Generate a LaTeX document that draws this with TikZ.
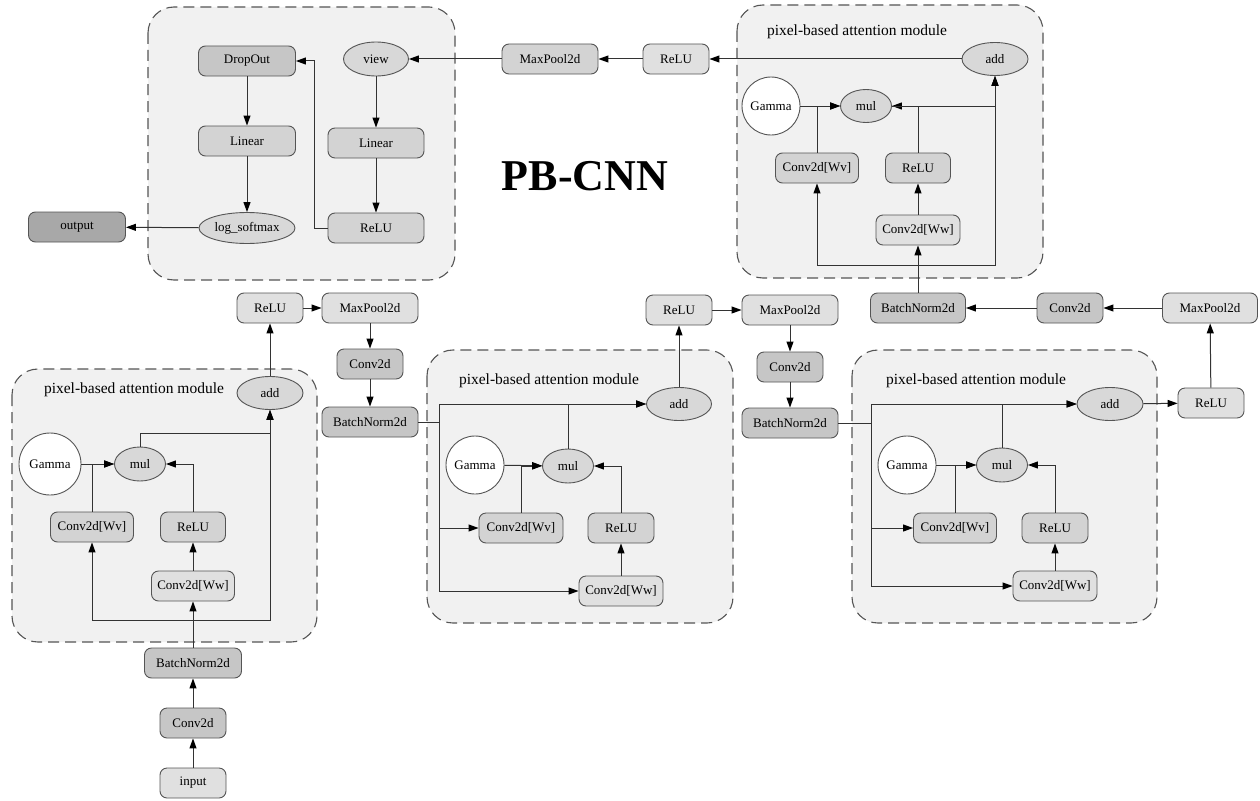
\documentclass[tikz,border=0pt]{standalone}
\usepackage{fontspec}
\setmainfont{Liberation Serif}
\usetikzlibrary{arrows.meta,shapes.geometric}

\definecolor{edgecol}{HTML}{333333}
\definecolor{boxline}{HTML}{555555}
\definecolor{grpfill}{HTML}{F1F1F1}
\definecolor{flight}{HTML}{E0E0E0}
\definecolor{fmid}{HTML}{D3D3D3}
\definecolor{fdark}{HTML}{C6C6C6}
\definecolor{fdarkest}{HTML}{A8A8A8}
\definecolor{fell}{HTML}{D8D8D8}

\tikzset{
  lay/.style={rectangle, rounded corners=7pt, draw=boxline, line width=0.9pt,
    minimum height=30pt, inner sep=0pt,
    font=\fontsize{13}{15}\selectfont},
  light/.style={lay, fill=flight},
  mid/.style={lay, fill=fmid},
  dark/.style={lay, fill=fdark},
  darkest/.style={lay, fill=fdarkest},
  oval/.style={ellipse, draw=boxline, line width=0.9pt, fill=fell, inner sep=0pt,
    minimum height=33pt, font=\fontsize{13}{15}\selectfont},
  gammanode/.style={circle, draw=boxline, line width=0.9pt, fill=white, inner sep=0pt,
    minimum size=59pt, font=\fontsize{13}{15}\selectfont},
  group/.style={draw=boxline, dash pattern=on 11pt off 6pt, line width=1.1pt,
    fill=grpfill, rounded corners=26pt},
  grouptitle/.style={font=\fontsize{15.5}{17}\selectfont},
  arr/.style={draw=edgecol, line width=1pt, -{Triangle[length=10pt,width=7pt,color=black]}},
  ln/.style={draw=edgecol, line width=1pt},
}

\begin{document}
\begin{tikzpicture}[x=1pt,y=-1pt]
\useasboundingbox[fill=white] (0,0) rectangle (1260,800);

% ---------- group frames ----------
\draw[group] (148,7) rectangle (455,280);
\draw[group] (737,5) rectangle (1043,278);
\draw[group] (12,369) rectangle (317,642);
\draw[group] (427,350) rectangle (733,623);
\draw[group] (852,350) rectangle (1157,623);

\node[grouptitle] (t4) at (857,32) {pixel-based attention module};
\node[grouptitle] (t1) at (134,390) {pixel-based attention module};
\node[grouptitle] (t2) at (549,381) {pixel-based attention module};
\node[grouptitle] (t3) at (976,381) {pixel-based attention module};

\node[font=\bfseries\fontsize{44}{48}\selectfont] (title) at (585,176) {PB-CNN};

% ---------- classifier head ----------
\node[dark, minimum width=97pt] (dropout) at (247,61) {DropOut};
\node[mid, minimum width=97pt] (linA) at (247,141) {Linear};
\node[oval, minimum width=96pt, minimum height=31pt] (logsm) at (247,228) {log\_softmax};
\node[oval, minimum width=65pt, minimum height=34pt] (view) at (376,59) {view};
\node[mid, minimum width=96pt] (linB) at (376,143) {Linear};
\node[mid, minimum width=96pt] (reluB) at (376,228) {ReLU};
\node[darkest, minimum width=97pt] (output) at (77,227) {output};

\node[mid, minimum width=96pt] (mp4) at (550,59) {MaxPool2d};
\node[light, minimum width=66pt] (relu4) at (676,59) {ReLU};

% ---------- stem ----------
\node[light, minimum width=66pt] (input) at (193,783) {input};
\node[dark, minimum width=66pt] (cv1) at (193,723) {Conv2d};
\node[dark, minimum width=97pt] (bn1) at (193,663) {BatchNorm2d};

% ---------- attention module 1 ----------
\node[oval, minimum width=66pt] (add1) at (270,393) {add};
\node[gammanode, minimum size=62pt] (gam1) at (50,464) {Gamma};
\node[oval, minimum width=51pt, minimum height=34pt] (mul1) at (140,464) {mul};
\node[mid, minimum width=83pt] (wv1) at (92,527) {Conv2d[Wv]};
\node[mid, minimum width=65pt] (rl1) at (193,527) {ReLU};
\node[light, minimum width=83pt] (ww1) at (193,586) {Conv2d[Ww]};
\coordinate (j1) at (193,620);

% ---------- stage 2 ----------
\node[light, minimum width=66pt] (relu1) at (270,308) {ReLU};
\node[light, minimum width=96pt] (mp1) at (370,308) {MaxPool2d};
\node[dark, minimum width=66pt] (cv2) at (370,364) {Conv2d};
\node[dark, minimum width=96pt] (bn2) at (370,422) {BatchNorm2d};
\coordinate (k2) at (439,422);

\node[oval, minimum width=65pt] (add2) at (679,404) {add};
\node[gammanode, minimum size=58pt] (gam2) at (475,465) {Gamma};
\node[oval, minimum width=51pt, minimum height=34pt] (mul2) at (568,466) {mul};
\node[mid, minimum width=84pt] (wv2) at (521,528) {Conv2d[Wv]};
\node[mid, minimum width=66pt] (rl2) at (621,528) {ReLU};
\node[light, minimum width=84pt] (ww2) at (621,591) {Conv2d[Ww]};

% ---------- stage 3 ----------
\node[light, minimum width=66pt] (relu2) at (679,310) {ReLU};
\node[light, minimum width=96pt] (mp2) at (790,310) {MaxPool2d};
\node[dark, minimum width=66pt] (cv3) at (790,367) {Conv2d};
\node[dark, minimum width=96pt] (bn3) at (790,423) {BatchNorm2d};
\coordinate (k3) at (871,423);

\node[oval, minimum width=66pt] (add3) at (1110,404) {add};
\node[gammanode, minimum size=58pt] (gam3) at (907,465) {Gamma};
\node[oval, minimum width=51pt, minimum height=34pt] (mul3) at (1002,465) {mul};
\node[mid, minimum width=83pt] (wv3) at (955,528) {Conv2d[Wv]};
\node[mid, minimum width=66pt] (rl3) at (1055,528) {ReLU};
\node[light, minimum width=84pt] (ww3) at (1055,586) {Conv2d[Ww]};

% ---------- stage 4 ----------
\node[light, minimum width=66pt] (relu3) at (1211,403) {ReLU};
\node[light, minimum width=95pt] (mp3) at (1210,308) {MaxPool2d};
\node[dark, minimum width=66pt] (cv4) at (1070,308) {Conv2d};
\node[dark, minimum width=95pt] (bn4) at (918,308) {BatchNorm2d};

\node[oval, minimum width=66pt] (add4) at (995,59) {add};
\node[gammanode, minimum size=58pt] (gam4) at (771,106) {Gamma};
\node[oval, minimum width=51pt] (mul4) at (866,106) {mul};
\node[mid, minimum width=83pt] (wv4) at (817,168) {Conv2d[Wv]};
\node[mid, minimum width=65pt] (rl4) at (918,168) {ReLU};
\node[light, minimum width=84pt] (ww4) at (918,230) {Conv2d[Ww]};
\coordinate (j4) at (918,265);

% ---------- connectors: stem and module 1 ----------
\draw[arr] (input) -- (cv1);
\draw[arr] (cv1) -- (bn1);
\draw[arr] (bn1) -- (ww1);
\draw[arr] (j1) -| (wv1);
\draw[arr] (j1) -| (add1);
\draw[arr] (ww1) -- (rl1);
\draw[arr] (rl1.north) |- (mul1.east);
\draw[arr] (gam1) -- (mul1);
\draw[arr] (wv1.north) |- (mul1.west);
\draw[arr] (mul1.north) -- ++(0,-13) -| (add1.south);
\draw[arr] (add1) -- (relu1);
\draw[arr] (relu1) -- (mp1);
\draw[arr] (mp1) -- (cv2);
\draw[arr] (cv2) -- (bn2);

% ---------- module 2 ----------
\draw[ln] (bn2.east) -- (k2);
\draw[arr] (k2) |- (add2.west);
\draw[arr] (k2) |- (wv2.west);
\draw[arr] (k2) |- (ww2.west);
\draw[arr] (ww2) -- (rl2);
\draw[arr] (rl2.north) |- (mul2.east);
\draw[arr] (gam2) -- (mul2);
\draw[arr] (wv2.north) |- (mul2.west);
\draw[arr] (mul2.north) |- (add2.west);
\draw[arr] (add2) -- (relu2);
\draw[arr] (relu2) -- (mp2);
\draw[arr] (mp2) -- (cv3);
\draw[arr] (cv3) -- (bn3);

% ---------- module 3 ----------
\draw[ln] (bn3.east) -- (k3);
\draw[arr] (k3) |- (add3.west);
\draw[arr] (k3) |- (wv3.west);
\draw[arr] (k3) |- (ww3.west);
\draw[arr] (ww3) -- (rl3);
\draw[arr] (rl3.north) |- (mul3.east);
\draw[arr] (gam3) -- (mul3);
\draw[arr] (wv3.north) |- (mul3.west);
\draw[arr] (mul3.north) |- (add3.west);
\draw[arr] (add3) -- (relu3);
\draw[arr] (relu3) -- (mp3);
\draw[arr] (mp3) -- (cv4);
\draw[arr] (cv4) -- (bn4);

% ---------- module 4 ----------
\draw[arr] (bn4) -- (ww4);
\draw[arr] (j4) -| (wv4);
\draw[arr] (j4) -| (add4);
\draw[arr] (ww4) -- (rl4);
\draw[arr] (rl4.north) |- (mul4.east);
\draw[arr] (gam4) -- (mul4);
\draw[arr] (wv4.north) |- (mul4.west);
\draw[arr] (mul4.east) -| (add4.south);
\draw[arr] (add4) -- (relu4);
\draw[arr] (relu4) -- (mp4);
\draw[arr] (mp4) -- (view);

% ---------- classifier ----------
\draw[arr] (view) -- (linB);
\draw[arr] (linB) -- (reluB);
\draw[arr] (reluB.west) -- ++(-13,0) |- (dropout.east);
\draw[arr] (dropout) -- (linA);
\draw[arr] (linA) -- (logsm);
\draw[arr] (logsm) -- (output);
\end{tikzpicture}
\end{document}
